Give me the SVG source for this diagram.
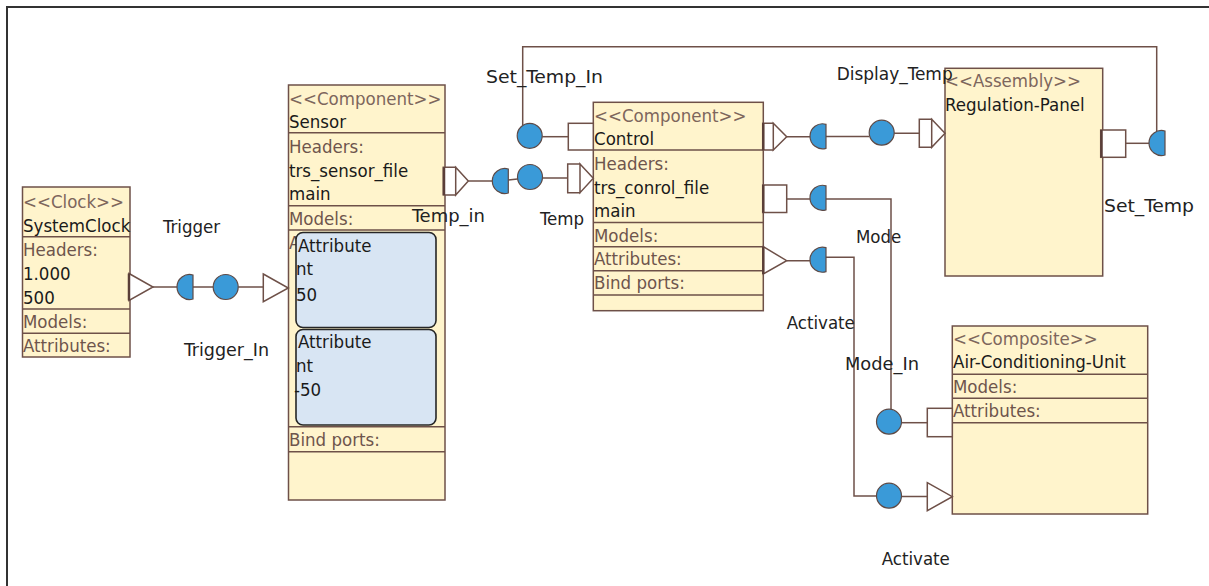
<svg xmlns="http://www.w3.org/2000/svg" xmlns:xlink="http://www.w3.org/1999/xlink" width="1209" height="586" viewBox="0 0 1209 586">
  <style>
    text { font-family: "DejaVu Sans Condensed", "DejaVu Sans", sans-serif; font-stretch: condensed; font-size: 18.5px; fill: #1a1a1a; }
    .stereo { fill: #7d665c; }
    .sect { fill: #6e554c; }
    .label { fill: #222; }
    .box { fill: #fff4cc; stroke: #6e5048; stroke-width: 1.5; }
    .div { stroke: #6e5048; stroke-width: 1.5; fill: none; }
    .attr { fill: #d8e5f3; stroke: #262626; stroke-width: 1.6; }
    .port { fill: #ffffff; stroke: #6e5048; stroke-width: 1.5; }
    .edge { stroke: #5a3e38; stroke-width: 2.5; }
    .ball { fill: #3a9ad8; stroke: #5e4a46; stroke-width: 1.2; }
    .wire { fill: none; stroke: #6e5048; stroke-width: 1.5; }
    .frame { fill: none; stroke: #333; stroke-width: 2; }
  </style>
  <defs>
    <!-- provided-interface ball and required-interface socket -->
    <circle id="ball" r="12.5" class="ball"/>
    <path id="socket" d="M3.5,-12 A12.5,12.5 0 1 0 3.5,12 Z" class="ball"/>
    <clipPath id="sensorAttrClip">
      <rect x="288" y="230" width="8.5" height="20"/>
    </clipPath>
  </defs>

  <rect width="1209" height="586" fill="#ffffff"/>
  <path class="frame" d="M7,586 V7 H1209"/>

  <!-- SystemClock -->
  <g id="systemclock">
    <rect class="box" x="22.5" y="187" width="107.5" height="170"/>
    <path class="div" d="M22.5,236.7 H130 M22.5,309 H130 M22.5,333.3 H130"/>
    <text x="23" y="208" class="stereo">&lt;&lt;Clock&gt;&gt;</text>
    <text x="23" y="231.5">SystemClock</text>
    <text x="23" y="256" class="sect">Headers:</text>
    <text x="23" y="280">1.000</text>
    <text x="23" y="303.5">500</text>
    <text x="23" y="328" class="sect">Models:</text>
    <text x="23" y="352" class="sect">Attributes:</text>
    <path class="port" d="M129,273.5 L153,287 L129,300.5 Z"/>
    <path class="edge" d="M129,273.5 V300.5"/>
  </g>

  <!-- Sensor -->
  <g id="sensor">
    <rect class="box" x="288.5" y="85" width="156.5" height="415"/>
    <path class="div" d="M288.5,132.7 H445 M288.5,205.7 H445 M288.5,230 H445 M288.5,426.7 H445 M288.5,451.7 H445"/>
    <text x="289" y="105" class="stereo">&lt;&lt;Component&gt;&gt;</text>
    <text x="289" y="128.3">Sensor</text>
    <text x="289" y="152.7" class="sect">Headers:</text>
    <text x="289" y="176.7">trs_sensor_file</text>
    <text x="289" y="200">main</text>
    <text x="289" y="225" class="sect">Models:</text>
    <text x="289" y="249" class="sect" clip-path="url(#sensorAttrClip)">A</text>
    <rect class="attr" x="296" y="232.5" width="140" height="95" rx="7"/>
    <text x="298" y="251.7">Attribute</text>
    <text x="296" y="275">nt</text>
    <text x="296" y="300.5">50</text>
    <rect class="attr" x="296" y="329.5" width="140" height="95.5" rx="7"/>
    <text x="298" y="348.3">Attribute</text>
    <text x="296" y="371.7">nt</text>
    <text x="294" y="396">-50</text>
    <text x="289" y="446" class="sect">Bind ports:</text>
    <path class="port" d="M443.3,167.3 H455.7 V195 H443.3 Z M455.7,167.3 L468.3,181 L455.7,195 Z"/>
    <path class="edge" d="M444,167.3 V195"/>
    <path class="port" d="M263.3,274 L288.3,288 L263.3,301.7 Z"/>
  </g>

  <!-- Control -->
  <g id="control">
    <rect class="box" x="593.3" y="102.3" width="170" height="208.4"/>
    <path class="div" d="M593.3,150 H763.3 M593.3,222.5 H763.3 M593.3,246.7 H763.3 M593.3,270.7 H763.3 M593.3,295 H763.3"/>
    <text x="594" y="121.7" class="stereo">&lt;&lt;Component&gt;&gt;</text>
    <text x="594" y="145">Control</text>
    <text x="594" y="170" class="sect">Headers:</text>
    <text x="594" y="194">trs_conrol_file</text>
    <text x="594" y="217.3">main</text>
    <text x="594" y="241.7" class="sect">Models:</text>
    <text x="594" y="265" class="sect">Attributes:</text>
    <text x="594" y="289.3" class="sect">Bind ports:</text>
    <rect class="port" x="568.3" y="123.3" width="25" height="26.7"/>
    <path class="port" d="M567.7,164 H580 V192.7 H567.7 Z M580,164 L593.3,178.3 L580,192.7 Z"/>
    <path class="port" d="M762.7,123.3 H773.3 V150 H762.7 Z M773.3,123.3 L786.7,136.7 L773.3,150 Z"/>
    <rect class="port" x="762.7" y="185" width="24" height="27.5"/>
    <path class="port" d="M763.3,246.7 L786.7,260.7 L763.3,274 Z"/>
    <path class="edge" d="M763.3,123.3 V150 M763.3,185 V212.5 M763.3,246.7 V274"/>
  </g>

  <!-- Regulation-Panel -->
  <g id="regulation-panel">
    <rect class="box" x="945" y="68.3" width="157.7" height="207.7"/>
    <text x="945" y="86.7" class="stereo">&lt;&lt;Assembly&gt;&gt;</text>
    <text x="945" y="110.7">Regulation-Panel</text>
    <path class="port" d="M919.3,119.3 H931.7 V147.3 H919.3 Z M931.7,119.3 L945,133.3 L931.7,147.3 Z"/>
    <rect class="port" x="1100.7" y="130" width="25" height="27.3"/>
    <path class="edge" d="M1101.5,130 V157.3"/>
  </g>

  <!-- Air-Conditioning-Unit -->
  <g id="air-conditioning-unit">
    <rect class="box" x="952.3" y="326" width="195.4" height="188"/>
    <path class="div" d="M952.3,374.3 H1147.7 M952.3,398.3 H1147.7 M952.3,422.7 H1147.7"/>
    <text x="953" y="345" class="stereo">&lt;&lt;Composite&gt;&gt;</text>
    <text x="953" y="368.3">Air-Conditioning-Unit</text>
    <text x="953" y="392.7" class="sect">Models:</text>
    <text x="953" y="416.7" class="sect">Attributes:</text>
    <rect class="port" x="927.3" y="408.3" width="25" height="28.4"/>
    <path class="port" d="M927.3,482.7 L952.3,496.7 L927.3,510.7 Z"/>
  </g>

  <!-- Connectors -->
  <g id="connectors">
    <path class="wire" d="M153,287 H177"/>
    <path class="wire" d="M193,287 H213.2 M238.2,287 H263.3"/>
    <path class="wire" d="M468.3,181 H492.3"/>
    <path class="wire" d="M508.3,180 L517.5,179 M542.5,178 H567.7"/>
    <path class="wire" d="M1156.7,131.5 V46.7 H522.7 V125.4"/>
    <path class="wire" d="M542.2,136.7 H568.3"/>
    <path class="wire" d="M1125.7,143.3 H1149"/>
    <path class="wire" d="M786.7,136.7 H810 M826,136.5 H869.2 M894.2,133.3 H919.3"/>
    <path class="wire" d="M786.7,199 H810 M826,199 H891 V409.4"/>
    <path class="wire" d="M901.5,422.7 H927.3"/>
    <path class="wire" d="M786.7,260.7 H810 M826,257.3 H854 V496 H876.5 M901.5,496.5 H927.3"/>

    <use xlink:href="#socket" x="189.5" y="287"/>
    <use xlink:href="#ball" x="225.7" y="287"/>
    <use xlink:href="#socket" x="504.8" y="181"/>
    <use xlink:href="#ball" x="530" y="177"/>
    <use xlink:href="#ball" x="529.7" y="135.8"/>
    <use xlink:href="#socket" x="822.5" y="136.3"/>
    <use xlink:href="#ball" x="881.7" y="132.7"/>
    <use xlink:href="#socket" x="822.5" y="197.8"/>
    <use xlink:href="#socket" x="822.5" y="259.7"/>
    <use xlink:href="#socket" x="1161.5" y="143"/>
    <use xlink:href="#ball" x="889" y="421.7"/>
    <use xlink:href="#ball" x="889" y="495.7"/>

    <text class="label" x="163" y="233">Trigger</text>
    <text class="label" x="184" y="356" textLength="85" lengthAdjust="spacingAndGlyphs">Trigger_In</text>
    <text class="label" x="412" y="222" textLength="73" lengthAdjust="spacingAndGlyphs">Temp_in</text>
    <text class="label" x="540" y="225">Temp</text>
    <text class="label" x="486" y="83" textLength="117" lengthAdjust="spacingAndGlyphs">Set_Temp_In</text>
    <text class="label" x="836.7" y="80" textLength="116" lengthAdjust="spacingAndGlyphs">Display_Temp</text>
    <text class="label" x="1104" y="212" textLength="90" lengthAdjust="spacingAndGlyphs">Set_Temp</text>
    <text class="label" x="856" y="243">Mode</text>
    <text class="label" x="786.7" y="329">Activate</text>
    <text class="label" x="845" y="370" textLength="74" lengthAdjust="spacingAndGlyphs">Mode_In</text>
    <text class="label" x="881.7" y="565">Activate</text>
  </g>
</svg>
